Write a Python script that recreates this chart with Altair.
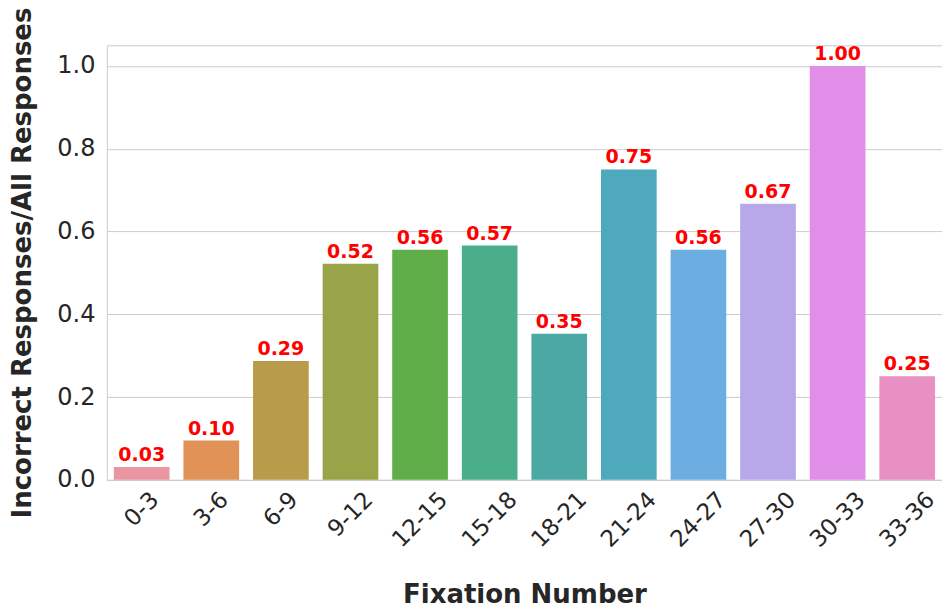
import altair as alt
import pandas as pd

categories = ["0-3", "3-6", "6-9", "9-12", "12-15", "15-18", "18-21",
              "21-24", "24-27", "27-30", "30-33", "33-36"]
values = [0.031, 0.095, 0.287, 0.522, 0.556, 0.566, 0.353,
          0.750, 0.556, 0.667, 1.000, 0.250]
colors = ["#ea96a2", "#e19256", "#b89b4b", "#99a448", "#5fae49", "#4aae8a",
          "#4ba8a4", "#4fa9bc", "#6daee2", "#b8a8ea", "#e08ee8", "#e88fc3"]

df = pd.DataFrame({"cat": categories, "val": values})

FONT = "DejaVu Sans"
TXT = "#262626"

x = alt.X(
    "cat:N", sort=categories,
    scale=alt.Scale(paddingInner=0.2, paddingOuter=0.1),
    axis=alt.Axis(
        title="Fixation Number", titleFont=FONT, titleFontSize=26,
        titleFontWeight="bold", titleColor=TXT,
        titleY=123, titleBaseline="alphabetic",
        labelFont=FONT, labelFontSize=23, labelColor=TXT,
        labelAngle=315, labelAlign="right", labelBaseline="middle",
        labelPadding=16,
        labelOffset=alt.ExprRef("5.2*(length(datum.label)-1)+3"),
        ticks=False, tickSize=0, domain=False, grid=False,
    ),
)
y = alt.Y(
    "val:Q",
    scale=alt.Scale(domain=[0, 1.05], nice=False, zero=True),
    axis=alt.Axis(
        title="Incorrect Responses/All Responses", titleFont=FONT,
        titleFontSize=26, titleFontWeight="bold", titleColor=TXT,
        titleX=-76, titleBaseline="alphabetic",
        values=[0, 0.2, 0.4, 0.6, 0.8, 1.0], format=".1f",
        labelFont=FONT, labelFontSize=24, labelColor=TXT, labelPadding=12,
        ticks=False, tickSize=0, domain=False,
        grid=True, gridColor="#cccccc", gridWidth=1,
    ),
)

bars = alt.Chart(df).mark_bar().encode(
    x=x, y=y,
    color=alt.Color("cat:N", sort=categories,
                    scale=alt.Scale(domain=categories, range=colors),
                    legend=None),
)

labels = alt.Chart(df).transform_calculate(
    lab="format(datum.val, '.2f')"
).mark_text(
    font=FONT, fontSize=19, fontWeight="bold", color="red",
    baseline="alphabetic", align="center", dy=-6,
).encode(
    x=alt.X("cat:N", sort=categories),
    y=alt.Y("val:Q"),
    text="lab:N",
)

chart = alt.layer(bars, labels).properties(
    width=836, height=435,
    autosize=alt.AutoSizeParams(type="none"),
    padding={"left": 99, "top": 37, "right": 0, "bottom": 126},
    background="white",
).configure_view(stroke="#cccccc", strokeWidth=1)

chart.save("out.html", embed_options={"renderer": "svg", "actions": False})
